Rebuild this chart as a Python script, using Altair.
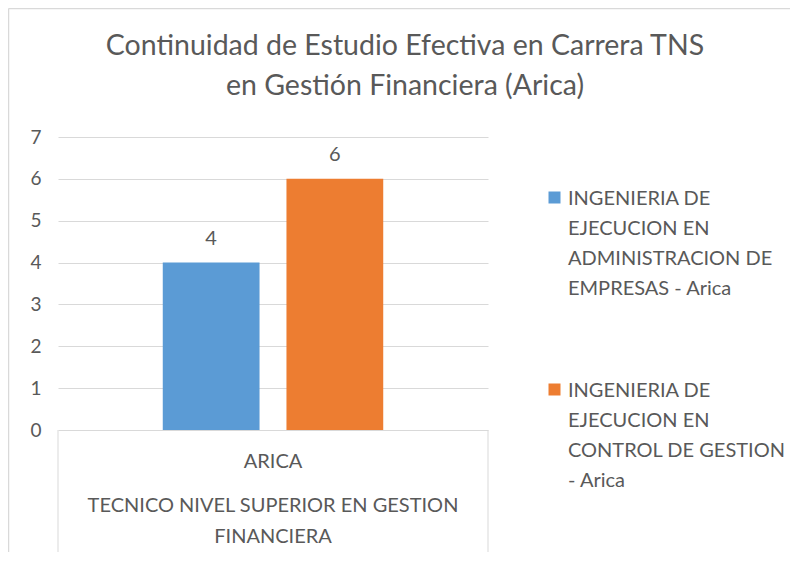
import altair as alt
import pandas as pd

FONT = "Lato"
TEXT = "#595959"
GRID = "#D9D9D9"

title_lines = ["Continuidad de Estudio Efectiva en Carrera TNS", "en Gestión Financiera (Arica)"]
series = [
    "INGENIERIA DE EJECUCION EN ADMINISTRACION DE EMPRESAS - Arica",
    "INGENIERIA DE EJECUCION EN CONTROL DE GESTION - Arica",
]
legend_lines = [
    ["INGENIERIA DE", "EJECUCION EN", "ADMINISTRACION DE", "EMPRESAS - Arica"],
    ["INGENIERIA DE", "EJECUCION EN", "CONTROL DE GESTION", "- Arica"],
]
values = [4, 6]
colors = ["#5B9BD5", "#ED7D31"]
sede = "ARICA"
carrera_lines = ["TECNICO NIVEL SUPERIOR EN GESTION", "FINANCIERA"]
y_ticks = [0, 1, 2, 3, 4, 5, 6, 7]

W, H = 430, 293

df = pd.DataFrame({"serie": series, "valor": values})
df["legend"] = ["\n".join(l) for l in legend_lines]

color = alt.Color("serie:N", scale=alt.Scale(domain=series, range=colors), legend=None)
x = alt.X("serie:N", sort=series, scale=alt.Scale(paddingInner=0.2177, paddingOuter=0.847), axis=None)
y = alt.Y(
    "valor:Q",
    scale=alt.Scale(domain=[0, 7], nice=False),
    axis=alt.Axis(
        values=y_ticks, title=None, domain=False, ticks=False, grid=True,
        gridColor=GRID, gridWidth=1, labelColor=TEXT, labelFont=FONT,
        labelFontSize=19, labelPadding=17,
    ),
)

base = alt.Chart(df)
bars = base.mark_bar().encode(x=x, y=y, color=color)
labels = base.mark_text(font=FONT, fontSize=20, color=TEXT, baseline="alphabetic", dy=-18).encode(
    x=x, y=y, text="valor:Q"
)

# title
title_df = pd.DataFrame({"t": ["\n".join(title_lines)]})
title = alt.Chart(title_df).mark_text(
    font=FONT, fontSize=28.5, color=TEXT, align="center", baseline="alphabetic",
    lineBreak="\n", lineHeight=40,
).encode(x=alt.value(347), y=alt.value(-82), text="t:N")

# category labels
cat_df = pd.DataFrame({"sede": [sede], "carrera": ["\n".join(carrera_lines)]})
cat1 = alt.Chart(cat_df).mark_text(
    font=FONT, fontSize=20, color=TEXT, align="center", baseline="alphabetic"
).encode(x=alt.value(W / 2), y=alt.value(331), text="sede:N")
cat2 = alt.Chart(cat_df).mark_text(
    font=FONT, fontSize=20, color=TEXT, align="center", baseline="alphabetic",
    lineBreak="\n", lineHeight=31,
).encode(x=alt.value(W / 2), y=alt.value(375), text="carrera:N")

box_left = alt.Chart(cat_df).mark_rule(color=GRID, strokeWidth=1).encode(
    x=alt.value(0), y=alt.value(H), y2=alt.value(418)
)
box_right = alt.Chart(cat_df).mark_rule(color=GRID, strokeWidth=1).encode(
    x=alt.value(W), y=alt.value(H), y2=alt.value(418)
)

# frame
frame_left = alt.Chart(cat_df).mark_rule(color="#D9D9D9", strokeWidth=1.5).encode(
    x=alt.value(-49.5), y=alt.value(-128.5), y2=alt.value(420)
)
frame_top = alt.Chart(cat_df).mark_rule(color="#D9D9D9", strokeWidth=1.5).encode(
    x=alt.value(-49.5), x2=alt.value(735), y=alt.value(-128.5)
)

# legend
legend_layers = []
for i, s in enumerate(series):
    sub = base.transform_filter(alt.datum.serie == s)
    y0 = 60.5 + i * 192
    legend_layers.append(
        sub.mark_square(size=144, opacity=1, filled=True).encode(
            x=alt.value(496.5), y=alt.value(y0), color=color
        )
    )
    legend_layers.append(
        sub.mark_text(
            font=FONT, fontSize=20, color=TEXT, align="left", baseline="alphabetic",
            lineBreak="\n", lineHeight=30,
        ).encode(x=alt.value(510), y=alt.value(y0 + 7.5), text="legend:N")
    )

chart = alt.layer(
    bars, labels, title, cat1, cat2, box_left, box_right, frame_left, frame_top, *legend_layers
).properties(
    width=W, height=H,
    autosize=alt.AutoSizeParams(type="none"),
    padding={"left": 50, "top": 129, "right": 302, "bottom": 122},
).configure_view(stroke=None)

chart.save("out.html", embed_options={"renderer": "svg", "actions": False})
